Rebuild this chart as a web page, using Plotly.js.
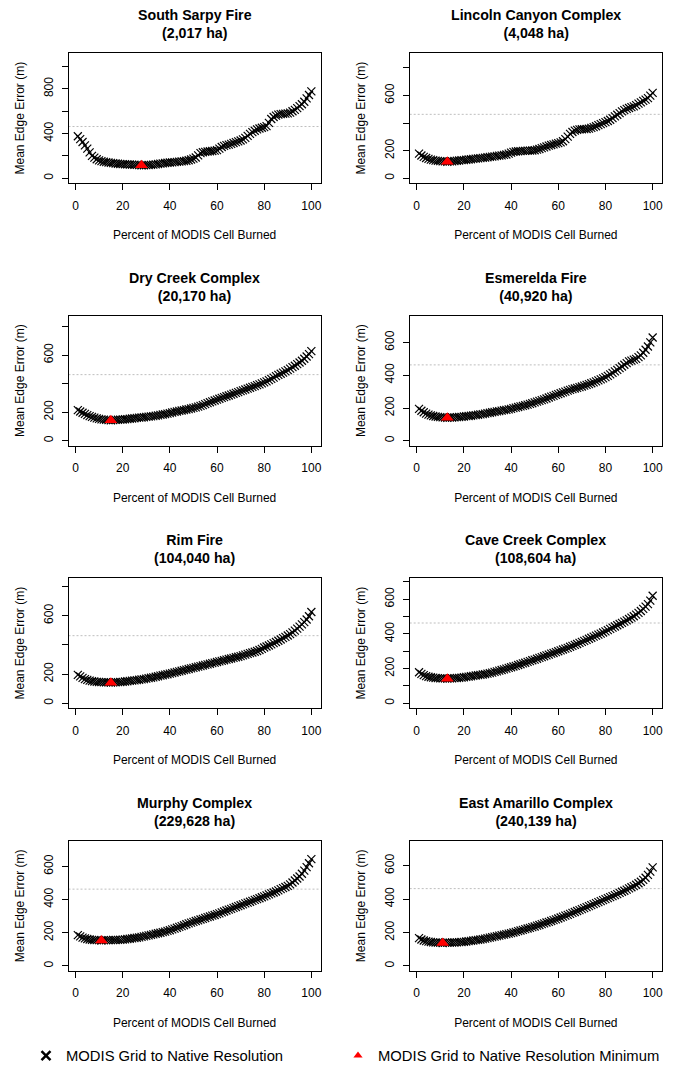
<!DOCTYPE html>
<html>
<head>
<meta charset="utf-8">
<script src="https://cdn.plot.ly/plotly-3.0.1.min.js"></script>
<style>
  html, body { margin: 0; padding: 0; background: #ffffff; overflow: hidden; }
  #chart { width: 674px; height: 1068px; }
</style>
</head>
<body>
<div id="chart"></div>
<script>
// ---------------- data ----------------
const pct = [1,2,3,4,5,6,7,8,9,10,11,12,13,14,15,16,17,18,19,20,
  21,22,23,24,25,26,27,28,29,30,31,32,33,34,35,36,37,38,39,40,
  41,42,43,44,45,46,47,48,49,50,51,52,53,54,55,56,57,58,59,60,
  61,62,63,64,65,66,67,68,69,70,71,72,73,74,75,76,77,78,79,80,
  81,82,83,84,85,86,87,88,89,90,91,92,93,94,95,96,97,98,99,100];

const fireNames = ["South Sarpy Fire", "Lincoln Canyon Complex", "Dry Creek Complex", "Esmerelda Fire",
  "Rim Fire", "Cave Creek Complex", "Murphy Complex", "East Amarillo Complex"];
const fireAreas = ["(2,017 ha)", "(4,048 ha)", "(20,170 ha)", "(40,920 ha)",
  "(104,040 ha)", "(108,604 ha)", "(229,628 ha)", "(240,139 ha)"];

const legendNames = ["MODIS Grid to Native Resolution", "MODIS Grid to Native Resolution Minimum"];

const southSarpy = [376,350,325,295,266,232,200,185,170,160,153,148,144,141,138,135,132,130,128,127,
  126,124,123,122,121,120,119,116,117,118,119,120,122,125,128,131,134,137,139,141,
  143,145,147,149,151,154,157,161,168,176,186,205,225,233,237,240,242,244,247,252,
  265,280,290,296,301,308,316,323,330,338,348,362,380,398,413,425,437,445,452,458,
  466,495,530,548,560,570,574,576,578,580,588,600,612,628,645,662,685,715,745,778];

const lincolnCanyon = [178,165,155,147,140,135,131,128,126,124,123,122,120,122,123,125,127,129,131,132,
  134,136,138,140,142,144,146,148,150,152,155,157,159,162,164,166,169,172,178,186,
  191,194,196,197,198,199,200,200,201,203,207,212,218,224,230,236,241,246,251,255,
  260,268,283,302,322,335,345,351,354,355,356,357,360,365,370,377,385,392,399,407,
  415,424,436,448,460,472,484,494,502,509,515,521,530,540,550,560,570,580,598,618];

const dryCreek = [215,205,196,188,180,173,167,162,157,153,150,148,146,145,143,145,146,147,148,149,
  151,152,154,156,158,160,162,163,165,167,169,171,173,175,178,181,184,187,190,194,
  198,202,205,209,212,215,219,222,226,230,234,239,244,250,257,264,270,276,282,288,
  294,300,306,312,317,323,329,335,341,347,353,359,365,371,377,383,389,395,402,409,
  416,424,433,442,452,461,469,477,486,495,505,515,525,536,548,560,574,590,607,627];

const esmerelda = [195,183,174,166,160,155,151,148,146,144,143,142,140,142,142,143,144,145,146,148,
  150,151,153,155,157,159,161,163,166,169,171,174,176,179,181,184,187,189,192,195,
  199,202,206,210,213,217,221,225,229,234,239,243,248,253,258,264,269,274,280,285,
  290,295,300,306,311,315,319,323,327,331,336,341,346,351,356,362,368,375,381,388,
  396,405,414,423,433,443,453,464,474,484,489,495,500,510,521,537,555,575,600,630];

const rimFire = [195,184,174,166,160,155,152,149,147,146,145,144,144,143,141,143,144,145,146,147,
  149,151,153,155,157,159,161,164,166,169,172,175,178,182,185,189,192,196,199,203,
  207,211,215,219,223,227,231,235,239,243,247,251,255,259,263,267,271,275,279,283,
  287,291,295,299,303,307,311,315,319,323,328,333,338,343,348,353,358,365,373,382,
  389,396,404,412,420,428,437,446,455,464,474,486,498,511,525,540,556,574,596,625];

const caveCreek = [179,170,162,157,153,150,148,146,145,144,144,144,142,144,144,145,146,147,148,150,
  152,154,156,158,160,162,164,166,168,171,174,177,181,184,188,192,196,200,204,208,
  212,216,221,225,230,234,239,243,248,252,257,262,266,271,276,281,286,290,295,300,
  305,310,315,320,326,331,337,342,348,354,360,366,372,378,384,390,396,402,408,415,
  422,429,436,443,450,457,464,471,478,486,494,502,511,521,532,544,557,572,592,620];

const murphy = [186,178,171,166,162,159,157,156,155,155,153,155,155,155,155,156,156,157,157,158,
  160,162,164,166,168,170,172,175,178,181,184,187,190,194,197,200,204,207,211,215,
  220,225,230,235,240,245,251,256,261,266,271,275,280,284,289,294,298,303,307,312,
  317,323,328,334,339,344,350,355,361,366,371,377,382,387,392,398,403,408,414,419,
  425,431,437,443,449,456,463,469,476,483,492,503,515,527,539,556,575,596,619,644];

const eastAmarillo = [166,158,152,148,145,143,141,140,139,139,137,139,139,139,140,140,141,142,143,144,
  146,148,150,152,154,156,158,160,163,166,169,172,175,178,181,184,187,190,193,196,
  200,204,208,212,216,220,224,228,232,236,241,245,250,255,260,264,269,274,279,284,
  290,295,301,306,312,318,323,329,334,340,346,352,358,364,370,376,382,388,394,400,
  406,412,418,424,430,437,444,450,457,464,471,478,486,495,504,515,528,545,565,590];

const allSeries = [southSarpy, lincolnCanyon, dryCreek, esmerelda, rimFire, caveCreek, murphy, eastAmarillo];

const nativeResolution = 463;   // MODIS native cell size (m), dotted reference line

const xTickVals = [0, 20, 40, 60, 80, 100];
const xTickText = ["0", "20", "40", "60", "80", "100"];

const yTickVals = [
  [0, 200, 400, 600, 800, 1000],
  [0, 200, 400, 600, 800],
  [0, 200, 400, 600, 800],
  [0, 200, 400, 600],
  [0, 200, 400, 600, 800],
  [0, 100, 200, 300, 400, 500, 600, 700],
  [0, 200, 400, 600],
  [0, 200, 400, 600]
];
const yTickText = [
  ["0", "", "400", "", "800", ""],
  ["0", "200", "", "600", ""],
  ["0", "200", "", "600", ""],
  ["0", "200", "400", "600"],
  ["0", "200", "", "600", ""],
  ["0", "", "200", "", "400", "", "600", ""],
  ["0", "200", "400", "600"],
  ["0", "200", "400", "600"]
];
const yLimits = [1075, 870, 841, 733, 823, 693, 725, 720];

// ---------------- layout helpers ----------------
const W = 674, H = 1068;
const colPx = [[68.5, 320.7], [409.7, 662]];
const rowTopPx = [53.3, 315.8, 578.3, 840.9];
const boxH = 129.8;
const FONT = "Liberation Sans, Arial, Helvetica, sans-serif";

const legendCommon = {
  orientation: "h",
  xanchor: "left",
  y: 1 - 1056 / H, yanchor: "middle",
  font: {family: FONT, size: 14.8, color: "#000000"},
  bgcolor: "rgba(0,0,0,0)",
  itemclick: false, itemdoubleclick: false
};

const traces = [];
const layout = {
  width: W, height: H,
  margin: {l: 0, r: 0, t: 0, b: 0, autoexpand: false},
  paper_bgcolor: "#ffffff",
  plot_bgcolor: "#ffffff",
  font: {family: FONT, size: 12, color: "#000000"},
  showlegend: true,
  legend: Object.assign({}, legendCommon, {x: 26 / W}),
  legend2: Object.assign({}, legendCommon, {x: 338 / W}),
  shapes: [],
  annotations: []
};

allSeries.forEach((vals, i) => {
  const n = i + 1;
  const xa = n === 1 ? "x" : "x" + n;
  const ya = n === 1 ? "y" : "y" + n;
  const col = i % 2, row = Math.floor(i / 2);
  const top = rowTopPx[row], bot = top + boxH;
  const L = yLimits[i];

  traces.push({
    type: "scatter", mode: "markers",
    x: pct, y: vals, xaxis: xa, yaxis: ya,
    marker: {symbol: "x-thin", size: 8, color: "#000000", line: {width: 1.2, color: "#000000"}},
    showlegend: false, hoverinfo: "skip", cliponaxis: false
  });

  const minVal = Math.min(...vals);
  const idx = vals.indexOf(minVal);
  traces.push({
    type: "scatter", mode: "markers",
    x: [pct[idx]], y: [vals[idx]], xaxis: xa, yaxis: ya,
    marker: {symbol: "triangle-up", size: 11, color: "#ff0000"},
    showlegend: false, hoverinfo: "skip", cliponaxis: false
  });

  const axCommon = {
    showline: true, mirror: true, linecolor: "#000000", linewidth: 1,
    showgrid: false, zeroline: false,
    ticks: "outside", ticklen: 6, tickwidth: 1, tickcolor: "#000000",
    tickfont: {family: FONT, size: 12, color: "#000000"},
    fixedrange: true
  };

  layout["xaxis" + (n === 1 ? "" : n)] = Object.assign({}, axCommon, {
    anchor: ya,
    domain: [colPx[col][0] / W, colPx[col][1] / W],
    range: [1 - 0.04 * 99, 100 + 0.04 * 99],
    tickmode: "array", tickvals: xTickVals, ticktext: xTickText,
    ticklabelstandoff: 5,
    title: {text: "Percent of MODIS Cell Burned", font: {family: FONT, size: 12, color: "#000000"}, standoff: 19}
  });
  layout["yaxis" + (n === 1 ? "" : n)] = Object.assign({}, axCommon, {
    anchor: xa,
    domain: [1 - bot / H, 1 - top / H],
    range: [-0.04 * L, 1.04 * L],
    tickmode: "array", tickvals: yTickVals[i], ticktext: yTickText[i],
    tickangle: -90,
    ticklabelstandoff: 4,
    title: {text: "Mean Edge Error (m)", font: {family: FONT, size: 12, color: "#000000"}, standoff: 14}
  });

  layout.shapes.push({
    type: "line", layer: "below",
    xref: xa + " domain", x0: 0, x1: 1,
    yref: ya, y0: nativeResolution, y1: nativeResolution,
    line: {color: "#bebebe", width: 1, dash: "2px,2px"}
  });

  layout.annotations.push({
    xref: xa + " domain", yref: ya + " domain",
    x: 0.5, y: 1, xanchor: "center", yanchor: "middle", yshift: 29,
    text: "<b>" + fireNames[i] + "</b><br><b>" + fireAreas[i] + "</b>",
    showarrow: false,
    font: {family: FONT, size: 14.2, color: "#000000"}
  });
});

// legend-only entries
traces.push({
  type: "scatter", mode: "markers", x: [null], y: [null], xaxis: "x", yaxis: "y",
  name: legendNames[0], legend: "legend",
  marker: {symbol: "x-thin", size: 9, color: "#000000", line: {width: 2.5, color: "#000000"}},
  showlegend: true, hoverinfo: "skip"
});
traces.push({
  type: "scatter", mode: "markers", x: [null], y: [null], xaxis: "x", yaxis: "y",
  name: legendNames[1], legend: "legend2",
  marker: {symbol: "triangle-up", size: 8, color: "#ff0000"},
  showlegend: true, hoverinfo: "skip"
});

Plotly.newPlot("chart", traces, layout, {displayModeBar: false, staticPlot: true});
</script>
</body>
</html>
